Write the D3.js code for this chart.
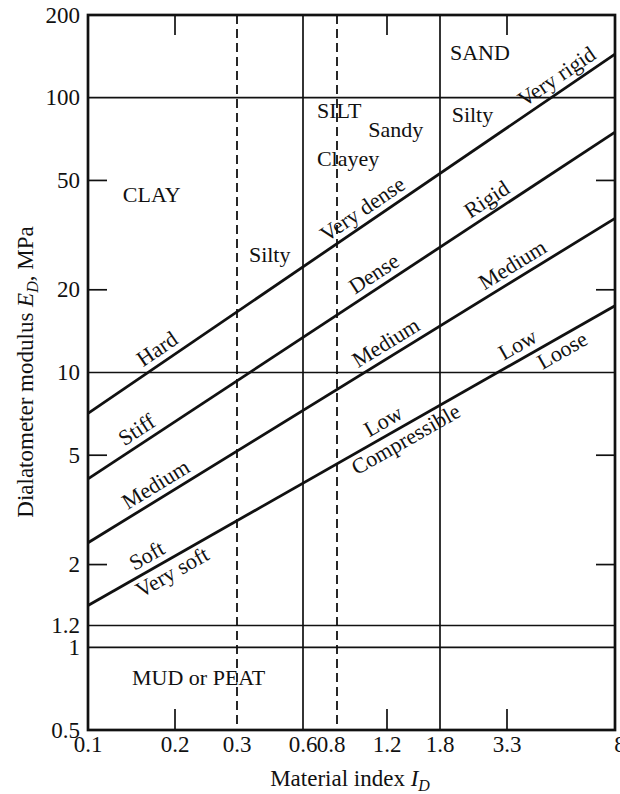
<!DOCTYPE html>
<html><head><meta charset="utf-8">
<script src="https://cdn.jsdelivr.net/npm/d3@7"></script>
<style>
body{margin:0;background:#fff}
svg{display:block}
text{font-family:"Liberation Serif","Times New Roman",serif;fill:#111}
</style>
</head><body>
<svg id="chart" width="620" height="794"></svg>
<script>
// ---- data ----
const xTickValues = [0.1, 0.2, 0.3, 0.6, 0.8, 1.2, 1.8, 3.3, 8];
const yTickValues = [0.5, 1, 1.2, 2, 5, 10, 20, 50, 100, 200];
const yShortTicks = [2, 5, 20, 50];
const xShortTicks = [0.2, 1.2, 3.3];
const horizontalBounds = [1, 1.2, 10, 100];
const verticalSolid = [0.6, 1.8];
const verticalDashed = [0.3, 0.8];
const boundaryX = [0.1, 8];
const boundaryStartE = [7.1, 4.1, 2.4, 1.42];
const boundaryEndE = [144, 75, 36.4, 17.5];
// label text, x position (material index), boundary line index, side
const diagLabelText = ["Hard","Stiff","Medium","Soft","Very soft","Very dense","Very rigid","Dense","Rigid","Medium","Medium","Low","Compressible","Low","Loose"];
const diagLabelX    = [0.185, 0.157, 0.182, 0.169, 0.186, 1.05, 5.3, 1.15, 2.95, 1.26, 3.67, 1.23, 1.32, 3.82, 4.93];
const diagLabelLine = [0, 1, 2, 3, 3, 0, 0, 1, 1, 2, 2, 3, 3, 3, 3];
const diagLabelSide = ["above","above","above","above","below","above","above","above","above","above","above","above","below","above","below"];
const regionText = ["CLAY","Silty","SILT","Sandy","Clayey","SAND","Silty","MUD or PEAT"];
const regionX    = [0.132, 0.34, 0.675, 1.03, 0.675, 1.97, 2.0, 0.142];
const regionE    = [41.7, 25.2, 84.3, 72, 56.4, 137, 81.6, 0.73];

// ---- layout ----
const plotL = 88, plotR = 615, plotT = 15, plotB = 730;
// pixel positions of the (hand-drawn) tick marks of the original figure
const xTickPx = [88, 175, 237, 303, 337, 387, 440, 507, 615];

const svg = d3.select("#chart");
const x = d3.scaleLog().domain(xTickValues).range(xTickPx);
const y = d3.scaleLog().domain([0.5, 200]).range([plotB, plotT]);

const ink = "#111";
const FS = 22, TFS = 23;

// horizontal boundaries
svg.append("g").selectAll("line").data(horizontalBounds).join("line")
  .attr("x1", plotL).attr("x2", plotR)
  .attr("y1", d => y(d)).attr("y2", d => y(d))
  .attr("stroke", ink).attr("stroke-width", 1.7);

// vertical solid
svg.append("g").selectAll("line").data(verticalSolid).join("line")
  .attr("x1", d => x(d)).attr("x2", d => x(d))
  .attr("y1", plotT).attr("y2", plotB)
  .attr("stroke", ink).attr("stroke-width", 1.7);

// vertical dashed
svg.append("g").selectAll("line").data(verticalDashed).join("line")
  .attr("x1", d => x(d)).attr("x2", d => x(d))
  .attr("y1", plotT).attr("y2", plotB)
  .attr("stroke", ink).attr("stroke-width", 1.8)
  .attr("stroke-dasharray", "9,5");

// diagonal boundaries
const line = d3.line();
svg.append("g").selectAll("path").data(boundaryStartE.map((s, i) => [s, boundaryEndE[i]])).join("path")
  .attr("d", d => line([[x(boundaryX[0]), y(d[0])], [x(boundaryX[1]), y(d[1])]]))
  .attr("fill", "none").attr("stroke", ink).attr("stroke-width", 2.8);

// short ticks
const tickG = svg.append("g").attr("stroke", ink).attr("stroke-width", 1.7);
yShortTicks.forEach(v => {
  tickG.append("line").attr("x1", plotL).attr("x2", plotL + 19).attr("y1", y(v)).attr("y2", y(v));
  tickG.append("line").attr("x1", plotR - 19).attr("x2", plotR).attr("y1", y(v)).attr("y2", y(v));
});
xShortTicks.forEach(v => {
  tickG.append("line").attr("x1", x(v)).attr("x2", x(v)).attr("y1", plotT).attr("y2", plotT + 20);
  tickG.append("line").attr("x1", x(v)).attr("x2", x(v)).attr("y1", plotB).attr("y2", plotB - 21);
});

// frame
svg.append("rect").attr("x", plotL).attr("y", plotT).attr("width", plotR - plotL).attr("height", plotB - plotT)
  .attr("fill", "none").attr("stroke", ink).attr("stroke-width", 2.7);

// y tick labels
svg.append("g").selectAll("text").data(yTickValues).join("text")
  .attr("x", plotL - 8).attr("y", d => y(d)).attr("dy", "0.33em")
  .attr("text-anchor", "end").attr("font-size", TFS)
  .text(d => d3.format("~g")(d));

// x tick labels
const xLabelNudge = {0.8: -6, 8: 5};
svg.append("g").selectAll("text").data(xTickValues).join("text")
  .attr("x", d => x(d) + (xLabelNudge[d] || 0)).attr("y", plotB + 22)
  .attr("text-anchor", "middle").attr("font-size", TFS)
  .text(d => d3.format("~g")(d));

// axis titles
const xt = svg.append("text").attr("x", 350).attr("y", 786).attr("text-anchor", "middle").attr("font-size", TFS);
xt.append("tspan").text("Material index ");
xt.append("tspan").attr("font-style", "italic").text("I");
xt.append("tspan").attr("font-style", "italic").attr("font-size", 16).attr("dy", 5).text("D");

const yt = svg.append("text").attr("transform", "translate(33,372) rotate(-90)").attr("text-anchor", "middle").attr("font-size", TFS);
yt.append("tspan").text("Dialatometer modulus ");
yt.append("tspan").attr("font-style", "italic").text("E");
yt.append("tspan").attr("font-style", "italic").attr("font-size", 16).attr("dy", 5).text("D");
yt.append("tspan").attr("dy", -5).text(", MPa");

// region labels
svg.append("g").selectAll("text").data(regionText).join("text")
  .attr("x", (d, i) => x(regionX[i])).attr("y", (d, i) => y(regionE[i]))
  .attr("font-size", FS).text(d => d);

// diagonal labels
function onLine(i, xv) {
  const x0 = x(boundaryX[0]), x1 = x(boundaryX[1]);
  const y0 = y(boundaryStartE[i]), y1 = y(boundaryEndE[i]);
  const px = x(xv), t = (px - x0) / (x1 - x0);
  return [px, y0 + t * (y1 - y0), Math.atan2(y1 - y0, x1 - x0) * 180 / Math.PI];
}
svg.append("g").selectAll("text").data(diagLabelText).join("text")
  .attr("transform", (d, i) => {
    const p = onLine(diagLabelLine[i], diagLabelX[i]);
    return `translate(${p[0]},${p[1]}) rotate(${p[2]})`;
  })
  .attr("y", (d, i) => diagLabelSide[i] === "above" ? -7 : 20)
  .attr("text-anchor", "middle").attr("font-size", FS)
  .text(d => d);
</script>
</body></html>
